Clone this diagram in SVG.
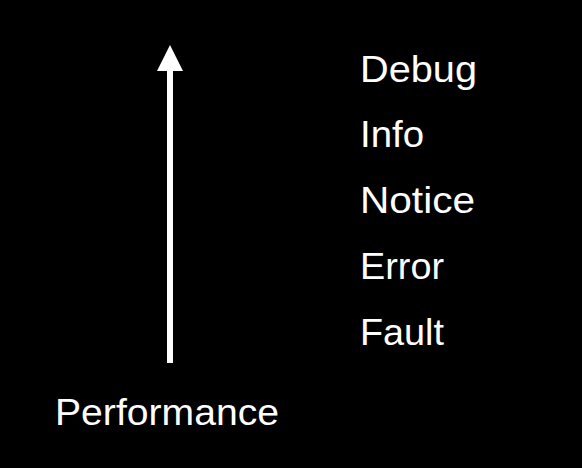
<svg xmlns="http://www.w3.org/2000/svg" width="582" height="468" viewBox="0 0 582 468">
<style>
text{font-family:"Liberation Sans",Arial,sans-serif;font-size:36px;fill:#fff}
</style>
<rect width="582" height="468" fill="#000"/>
<g id="connectors">
<rect x="167" y="68" width="6" height="295" fill="#fff"/>
<polygon points="170,45 183,71 157,71" fill="#fff"/>
</g>
<g id="debug"><text x="360" y="82" textLength="117" lengthAdjust="spacingAndGlyphs">Debug</text></g>
<g id="info"><text x="360" y="147" textLength="64" lengthAdjust="spacingAndGlyphs">Info</text></g>
<g id="notice"><text x="360" y="213" textLength="115" lengthAdjust="spacingAndGlyphs">Notice</text></g>
<g id="error"><text x="360" y="279" textLength="84" lengthAdjust="spacingAndGlyphs">Error</text></g>
<g id="fault"><text x="360" y="345" textLength="84" lengthAdjust="spacingAndGlyphs">Fault</text></g>
<g id="performance"><text x="55" y="425" textLength="224" lengthAdjust="spacingAndGlyphs">Performance</text></g>
</svg>
